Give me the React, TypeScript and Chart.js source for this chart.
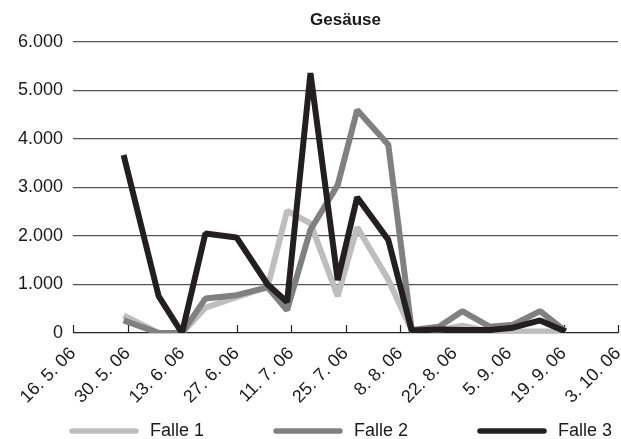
import { useEffect, useRef } from "react";
import { Chart, registerables } from "chart.js";

Chart.register(...registerables);

// Tick labels of the date axis (every 14 days starting 16. 5. 06)
const tickLabels = [
  "16. 5. 06",
  "30. 5. 06",
  "13. 6. 06",
  "27. 6. 06",
  "11. 7. 06",
  "25. 7. 06",
  "8. 8. 06",
  "22. 8. 06",
  "5. 9. 06",
  "19. 9. 06",
  "3. 10. 06",
];

// Sampling dates as days after 16. 5. 06
const sampleDays = [13, 22, 28, 34, 42, 50, 55, 61, 68, 73, 81, 87, 94, 100, 107, 113, 120, 126.5];

const falle1 = [360, 0, 0, 520, 740, 950, 2520, 2260, 760, 2180, 1100, 50, 60, 150, 30, 30, 30, 30];
const falle2 = [260, 0, 0, 710, 780, 940, 470, 2130, 3050, 4600, 3880, 60, 130, 450, 130, 170, 450, 40];
const falle3 = [3670, 760, 0, 2050, 1970, 1000, 640, 5360, 1090, 2800, 1920, 50, 70, 60, 60, 110, 260, 30];

const seriesNames = ["Falle 1", "Falle 2", "Falle 3"];
const seriesValues = [falle1, falle2, falle3];
const seriesColors = ["#bebebe", "#808080", "#231f20"];

const titleText = "Gesäuse";
const FONT = "'Liberation Sans', Arial, Helvetica, sans-serif";

function fmtThousands(v: number): string {
  return String(Math.round(v)).replace(/\B(?=(\d{3})+(?!\d))/g, ".");
}

const titlePlugin = {
  id: "centerTitle",
  afterDraw(chart: any) {
    const { ctx, chartArea } = chart;
    ctx.save();
    ctx.font = `bold 17px ${FONT}`;
    ctx.fillStyle = "#1a1a1a";
    ctx.textAlign = "center";
    ctx.textBaseline = "middle";
    ctx.fillText(titleText, (chartArea.left + chartArea.right) / 2, 20);
    ctx.restore();
  },
};

const upTicksPlugin = {
  id: "upTicks",
  beforeDatasetsDraw(chart: any) {
    const { ctx, chartArea } = chart;
    const xs = chart.scales.x;
    ctx.save();
    ctx.strokeStyle = "#222";
    ctx.lineWidth = 1.2;
    xs.ticks.forEach((t: any) => {
      const x = Math.round(xs.getPixelForValue(t.value)) + 0.5;
      ctx.beginPath();
      ctx.moveTo(x, chartArea.bottom);
      ctx.lineTo(x, chartArea.bottom - 8);
      ctx.stroke();
    });
    ctx.restore();
  },
};

const legendPlugin = {
  id: "bottomLegend",
  afterDraw(chart: any) {
    const { ctx } = chart;
    const y = 431;
    ctx.save();
    ctx.font = `18px ${FONT}`;
    ctx.textBaseline = "middle";
    ctx.textAlign = "left";
    chart.data.datasets.forEach((ds: any, i: number) => {
      const x = 72 + i * 204;
      ctx.strokeStyle = ds.borderColor;
      ctx.lineWidth = 5.5;
      ctx.lineCap = "round";
      ctx.beginPath();
      ctx.moveTo(x, y);
      ctx.lineTo(x + 64, y);
      ctx.stroke();
      ctx.fillStyle = "#1a1a1a";
      ctx.fillText(ds.label, x + 78, y);
    });
    ctx.restore();
  },
};

export default function App() {
  const ref = useRef<HTMLCanvasElement | null>(null);

  useEffect(() => {
    if (!ref.current) return;
    const datasets = seriesNames.map((name, i) => ({
      label: name,
      data: sampleDays.map((d, j) => ({ x: d, y: seriesValues[i][j] })),
      borderColor: seriesColors[i],
      backgroundColor: seriesColors[i],
      borderWidth: 6,
      pointRadius: 0,
      tension: 0,
      fill: false,
      order: 3 - i,
      borderJoinStyle: "bevel" as const,
    }));
    const chart = new Chart(ref.current, {
      type: "line",
      data: { datasets },
      plugins: [titlePlugin, upTicksPlugin, legendPlugin],
      options: {
        animation: false,
        responsive: false,
        devicePixelRatio: 1,
        layout: { padding: { top: 42, right: 3, left: 0, bottom: 0 } },
        plugins: {
          legend: { display: false },
          title: { display: false },
          tooltip: { enabled: false },
        },
        scales: {
          x: {
            type: "linear",
            min: 0,
            max: 140,
            grid: { display: false },
            border: { display: false },
            ticks: {
              stepSize: 14,
              autoSkip: false,
              maxRotation: 45,
              minRotation: 45,
              padding: 2,
              color: "#1a1a1a",
              font: { family: FONT, size: 18 },
              callback: (v: any) => tickLabels[Math.round(Number(v) / 14)] ?? "",
            },
            afterFit: (s: any) => {
              s.height = 106;
              s.paddingLeft = 0;
              s.paddingRight = 0;
            },
          },
          y: {
            min: 0,
            max: 6000,
            grid: {
              color: (c: any) => (c.tick && c.tick.value === 0 ? "#222" : "#555"),
              lineWidth: 1.3,
              drawTicks: false,
            },
            border: { display: false },
            ticks: {
              stepSize: 1000,
              padding: 10,
              color: "#1a1a1a",
              font: { family: FONT, size: 18 },
              callback: (v: any) => fmtThousands(Number(v)),
            },
            afterFit: (s: any) => {
              s.width = 73;
            },
          },
        },
      },
    });
    return () => chart.destroy();
  }, []);

  return (
    <div style={{ position: "fixed", left: 0, top: 0, width: 621, height: 439, background: "#fff" }}>
      <canvas ref={ref} width={621} height={439} style={{ display: "block" }} />
    </div>
  );
}
